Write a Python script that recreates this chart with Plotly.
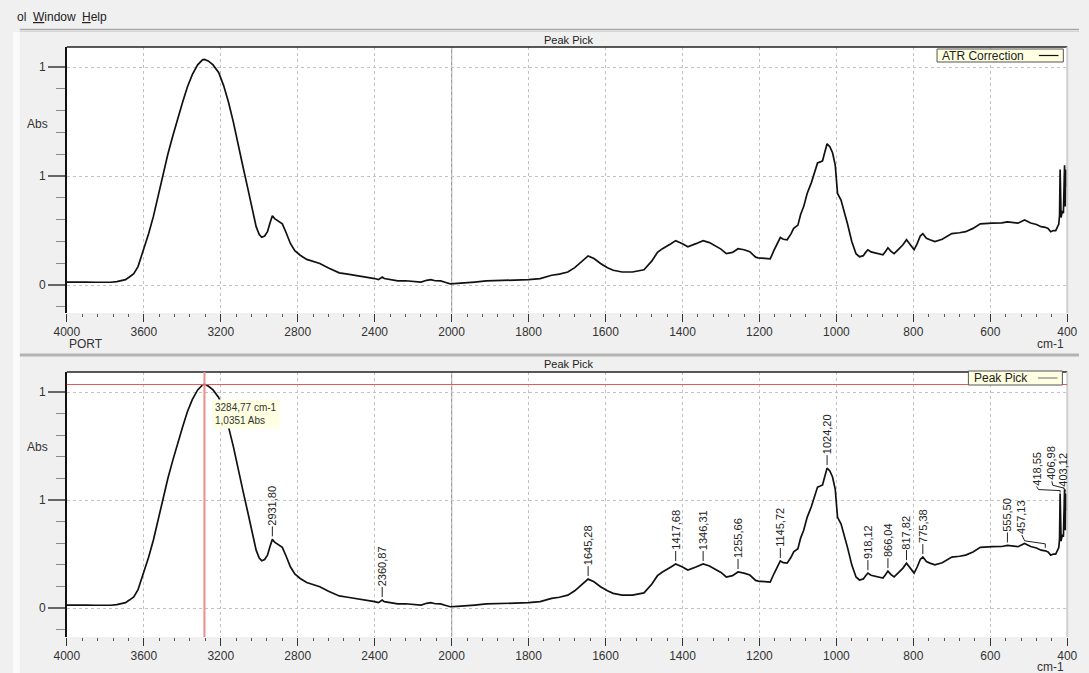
import numpy as np
import plotly.graph_objects as go

# ---------------- data ----------------
wavenumber = [
    4000, 3950, 3900, 3850, 3800, 3771, 3740, 3720, 3695, 3675, 3652, 3630, 3602, 3575,
    3550, 3525, 3500, 3475, 3449, 3424, 3398, 3373, 3348, 3320, 3300, 3295, 3284.77, 3275,
    3265, 3240, 3211, 3185, 3160, 3135, 3110, 3085, 3058, 3035, 3016, 3000, 2987, 2972,
    2957, 2944, 2931.80, 2920, 2906, 2893, 2880, 2860, 2838, 2815, 2787, 2753, 2720, 2685,
    2640, 2584, 2540, 2499, 2450, 2400, 2380, 2370, 2360.87, 2350, 2320, 2280, 2240, 2200,
    2170, 2159, 2130, 2108, 2085, 2057, 2030, 2007, 1985, 1969, 1940, 1910, 1870, 1840,
    1800, 1770, 1740, 1720, 1698, 1680, 1664, 1645.28, 1630, 1613, 1595, 1580, 1557, 1530,
    1500, 1480, 1465, 1452, 1430, 1417.68, 1400, 1386, 1365, 1346.31, 1330, 1312, 1300,
    1286, 1270, 1255.66, 1240, 1225, 1210, 1203, 1185, 1172, 1162, 1154, 1145.72, 1138,
    1128, 1118, 1111, 1100, 1093, 1085, 1076, 1065, 1055, 1049, 1042, 1036, 1030, 1024.20,
    1017, 1010, 1003, 997, 988, 980, 971, 960, 949, 940, 930, 924, 918.12, 910, 901, 890,
    879, 872, 866.04, 858, 850, 838, 827, 817.82, 808, 798, 790, 782, 775.38, 766, 757,
    744, 725, 700, 680, 664, 645, 626, 595, 570, 555.50, 540, 528, 511, 495, 480, 468,
    457.13, 450, 443, 436, 430, 425, 422, 420, 418.55, 416, 413, 410, 406.98, 405, 403.12,
    401.5, 400,
]
absorbance = [
    0.014, 0.015, 0.014, 0.013, 0.012, 0.013, 0.016, 0.020, 0.025, 0.037, 0.052, 0.085, 0.160, 0.235,
    0.315, 0.410, 0.515, 0.600, 0.685, 0.765, 0.840, 0.910, 0.965, 1.010, 1.028, 1.033, 1.0351, 1.033,
    1.028, 1.010, 0.975, 0.915, 0.840, 0.750, 0.654, 0.545, 0.438, 0.345, 0.268, 0.232, 0.219, 0.225,
    0.245, 0.285, 0.318, 0.305, 0.296, 0.290, 0.281, 0.240, 0.191, 0.158, 0.137, 0.118, 0.108, 0.099,
    0.078, 0.056, 0.050, 0.045, 0.038, 0.030, 0.025, 0.030, 0.037, 0.030, 0.024, 0.019, 0.020, 0.016,
    0.012, 0.014, 0.022, 0.025, 0.020, 0.019, 0.012, 0.006, 0.008, 0.009, 0.014, 0.019, 0.020, 0.022,
    0.025, 0.030, 0.045, 0.050, 0.060, 0.080, 0.106, 0.134, 0.122, 0.099, 0.080, 0.068, 0.060, 0.060,
    0.070, 0.110, 0.150, 0.167, 0.190, 0.204, 0.190, 0.176, 0.190, 0.204, 0.195, 0.176, 0.165,
    0.144, 0.150, 0.167, 0.162, 0.153, 0.128, 0.125, 0.122, 0.120, 0.160, 0.190, 0.218, 0.210,
    0.208, 0.235, 0.260, 0.275, 0.324, 0.360, 0.420, 0.470, 0.530, 0.560, 0.565, 0.570, 0.610, 0.648,
    0.635, 0.607, 0.550, 0.420, 0.390, 0.340, 0.280, 0.200, 0.144, 0.130, 0.135, 0.150, 0.162, 0.152, 0.148, 0.145,
    0.139, 0.155, 0.171, 0.155, 0.144, 0.165, 0.185, 0.208, 0.185, 0.162, 0.190, 0.225, 0.236, 0.215, 0.208,
    0.200, 0.210, 0.236, 0.240, 0.245, 0.260, 0.281, 0.284, 0.285, 0.290, 0.286, 0.284, 0.299, 0.285, 0.278, 0.268,
    0.265, 0.260, 0.245, 0.250, 0.250, 0.265, 0.280, 0.320, 0.530, 0.310, 0.340, 0.330, 0.550, 0.360, 0.530,
    0.450, 0.500,
]

peak_wn = [2931.80, 2360.87, 1645.28, 1417.68, 1346.31, 1255.66, 1145.72, 1024.20,
           918.12, 866.04, 817.82, 775.38, 555.50, 457.13, 418.55, 406.98, 403.12]
peak_labels = ["2931,80", "2360,87", "1645,28", "1417,68", "1346,31", "1255,66", "1145,72",
               "1024,20", "918,12", "866,04", "817,82", "775,38", "555,50", "457,13",
               "418,55", "406,98", "403,12"]

cursor_wn = 3284.77
cursor_abs = 1.0351

x_tick_wn = [4000, 3600, 3200, 2800, 2400, 2000, 1800, 1600, 1400, 1200, 1000, 800, 600, 400]
y_tick_vals = [0, 0.5, 1]
y_tick_text = ["0", "1", "1"]
y_minor_vals = [-0.1, 0.1, 0.2, 0.3, 0.4, 0.6, 0.7, 0.8, 0.9]

# leader polylines in pixel offsets (dx right, dy up) from the peak; first point = label bottom
DEFAULT_LEADER = [(0, 13), (0, 3)]
leader_style = {
    457.13: [(-24, 16), (-21, 10), (0, 7), (0, 3)],
    418.55: [(-24, 7), (-22, 4), (0, 3), (0, 1)],
    406.98: [(-13, 8), (-12, 4), (0, 1)],
    403.12: [(-3, 6), (0, 2)],
}

# ---------------- helpers ----------------
W, H = 1089, 673
FONT = "Arial, Liberation Sans, sans-serif"
PLOT_L, PLOT_R = 55, 1077
TOP_T, TOP_B = 47, 313
BOT_T, BOT_B = 372, 637
Y1_RANGE = [-0.128, 1.092]
Y2_RANGE = [-0.134, 1.093]


def disp(w):
    """FTIR axis: scale compressed by 2 above 2000 cm-1."""
    w = np.asarray(w, dtype=float)
    return np.where(w <= 2000, w, 2000 + (w - 2000) / 2.0)


def PX(px):
    return px / W


def PY(py):
    return 1 - py / H


X_RANGE = [float(disp(4000)), float(disp(400))]
x_per_px = (X_RANGE[1] - X_RANGE[0]) / (PLOT_R - PLOT_L)      # negative (reversed axis)
y2_per_px = (Y2_RANGE[1] - Y2_RANGE[0]) / (BOT_B - BOT_T)

wn_arr = np.array(wavenumber)
ab_arr = np.array(absorbance)
X = disp(wn_arr)

fig = go.Figure()

# spectra
fig.add_trace(go.Scatter(x=X, y=ab_arr, mode="lines", line=dict(color="#111", width=1.7),
                         xaxis="x", yaxis="y", hoverinfo="skip"))
fig.add_trace(go.Scatter(x=X, y=ab_arr, mode="lines", line=dict(color="#111", width=1.7),
                         xaxis="x2", yaxis="y2", hoverinfo="skip"))
# cursor highlight (cyan) near picked point
near = np.abs(wn_arr - cursor_wn) <= 11
fig.add_trace(go.Scatter(x=X[near], y=ab_arr[near], mode="lines", line=dict(color="#19d3e0", width=2),
                         xaxis="x2", yaxis="y2", hoverinfo="skip"))

# peak leader lines (data coordinates derived from peaks + pixel offsets)
lx, ly = [], []
peak_abs = []
for w in peak_wn:
    a = float(np.interp(w, wn_arr[::-1], ab_arr[::-1]))
    peak_abs.append(a)
    xp = float(disp(w))
    for dx, dy in leader_style.get(w, DEFAULT_LEADER):
        lx.append(xp + dx * x_per_px)
        ly.append(a + dy * y2_per_px)
    lx.append(None)
    ly.append(None)
fig.add_trace(go.Scatter(x=lx, y=ly, mode="lines", line=dict(color="#222", width=1),
                         xaxis="x2", yaxis="y2", hoverinfo="skip", connectgaps=False))

tickvals_x = [float(v) for v in disp(x_tick_wn)]
ticktext_x = [str(v) for v in x_tick_wn]


def xaxis_cfg(dom_anchor):
    return dict(
        domain=[PX(PLOT_L), PX(PLOT_R)], range=X_RANGE,
        tickmode="array", tickvals=tickvals_x, ticktext=ticktext_x,
        ticks="outside", ticklen=8, tickwidth=1, tickcolor="#333",
        tickfont=dict(size=12, color="#333"),
        showgrid=True, gridcolor="#c2c2c2", griddash="dot", gridwidth=1,
        zeroline=False, showline=False, anchor=dom_anchor,
        minor=dict(tickmode="linear", tick0=400, dtick=40, ticks="outside", ticklen=3,
                   tickcolor="#555", tickwidth=1, showgrid=False),
    )


def yaxis_cfg(dom, rng, anchor):
    return dict(
        domain=dom, range=rng, tickmode="array", tickvals=y_tick_vals, ticktext=y_tick_text,
        ticks="outside", ticklen=17, tickwidth=1.5, tickcolor="#666",
        tickfont=dict(size=12, color="#333"),
        showline=True, linecolor="#111", linewidth=1.5,
        showgrid=True, gridcolor="#c2c2c2", griddash="dot", gridwidth=1,
        zeroline=False, anchor=anchor,
        minor=dict(tickmode="array", tickvals=y_minor_vals, ticks="outside", ticklen=9,
                   tickcolor="#8a8a8a", tickwidth=1.2, showgrid=False),
    )


fig.update_layout(
    width=W, height=H, margin=dict(l=0, r=0, t=0, b=0), autosize=False,
    paper_bgcolor="#f0f0f0", plot_bgcolor="white", showlegend=False,
    font=dict(family=FONT, size=12, color="#333"),
    xaxis=xaxis_cfg("y"),
    yaxis=yaxis_cfg([PY(TOP_B), PY(TOP_T)], Y1_RANGE, "x"),
    xaxis2=xaxis_cfg("y2"),
    yaxis2=yaxis_cfg([PY(BOT_B), PY(BOT_T)], Y2_RANGE, "x2"),
)

shapes = []
# window chrome
shapes.append(dict(type="rect", xref="paper", yref="paper", x0=0, x1=PX(7), y0=0, y1=PY(32),
                   fillcolor="#fbfbfb", line=dict(width=0)))
shapes.append(dict(type="line", xref="paper", yref="paper", x0=PX(7), x1=1, y0=PY(29.5), y1=PY(29.5),
                   line=dict(color="#a8a8a8", width=1.5)))
shapes.append(dict(type="line", xref="paper", yref="paper", x0=PX(7), x1=1, y0=PY(31.5), y1=PY(31.5),
                   line=dict(color="#d6d6d6", width=1)))
shapes.append(dict(type="line", xref="paper", yref="paper", x0=PX(7), x1=1, y0=PY(355), y1=PY(355),
                   line=dict(color="#b3b3b3", width=3)))

for xa, ya in (("x", "y"), ("x2", "y2")):
    # top border and right border of plot area
    shapes.append(dict(type="line", xref=f"{xa} domain", yref=f"{ya} domain", x0=0, x1=1, y0=1, y1=1,
                       line=dict(color="#222", width=1.5)))
    shapes.append(dict(type="line", xref=f"{xa} domain", yref=f"{ya} domain", x0=1, x1=1, y0=0, y1=1,
                       line=dict(color="#cfcfcf", width=2)))
    # solid separator at 2000 cm-1 (axis scale change)
    shapes.append(dict(type="line", xref=xa, yref=f"{ya} domain", x0=float(disp(2000)), x1=float(disp(2000)),
                       y0=0, y1=1, line=dict(color="#9a9a9a", width=1.2), layer="below"))

# cursor crosshair
cx = float(disp(cursor_wn))
shapes.append(dict(type="line", xref="x2", yref="y2 domain", x0=cx, x1=cx, y0=0, y1=1,
                   line=dict(color="#f28b8b", width=2)))
shapes.append(dict(type="line", xref="x2 domain", yref="y2", x0=0, x1=1, y0=cursor_abs, y1=cursor_abs,
                   line=dict(color="#e85a5a", width=1)))

# legend boxes
shapes.append(dict(type="rect", xref="paper", yref="paper", x0=PX(944), x1=PX(1073), y0=PY(62), y1=PY(49),
                   fillcolor="#ffffe1", line=dict(color="#555", width=1)))
shapes.append(dict(type="line", xref="paper", yref="paper", x0=PX(1048), x1=PX(1068), y0=PY(55.5), y1=PY(55.5),
                   line=dict(color="#111", width=1.2)))
shapes.append(dict(type="rect", xref="paper", yref="paper", x0=PX(976), x1=PX(1072), y0=PY(385), y1=PY(371),
                   fillcolor="#ffffe1", line=dict(color="#555", width=1)))
shapes.append(dict(type="line", xref="paper", yref="paper", x0=PX(1047), x1=PX(1067), y0=PY(378), y1=PY(378),
                   line=dict(color="#9a9a9a", width=1.5)))
fig.update_layout(shapes=shapes)

ann = []


def text(px, py, s, size=12, xanchor="left", yanchor="middle", color="#333"):
    ann.append(dict(x=PX(px), y=PY(py), xref="paper", yref="paper", text=s, showarrow=False,
                    xanchor=xanchor, yanchor=yanchor, font=dict(size=size, color=color, family=FONT)))


# menu bar
text(2, 17, "ol", size=12, color="#222")
text(18, 17, '<span style="text-decoration:underline">W</span>indow', size=12, color="#222")
text(68, 17, '<span style="text-decoration:underline">H</span>elp', size=12, color="#222")
# panel titles
text(567, 40, "Peak Pick", size=11, xanchor="center", color="#222")
text(567, 364, "Peak Pick", size=11, xanchor="center", color="#222")
# axis labels
text(12, 124, "Abs", size=12, color="#333")
text(12, 447, "Abs", size=12, color="#333")
text(55, 344, "PORT", size=12, color="#333")
text(1076, 344, "cm-1", size=12, xanchor="right", color="#333")
text(1076, 667, "cm-1", size=12, xanchor="right", color="#333")
# legends
text(947, 55.5, "ATR Correction", size=12, color="#222")
text(980, 378, "Peak Pick", size=12, color="#222")

# peak labels (rotated text, bottom at the leader start)
for w, lab, a in zip(peak_wn, peak_labels, peak_abs):
    dx, dy = leader_style.get(w, DEFAULT_LEADER)[0]
    ann.append(dict(x=float(disp(w)), y=a, xref="x2", yref="y2", text=lab, textangle=-90,
                    showarrow=False, xanchor="center", yanchor="bottom", xshift=dx, yshift=dy,
                    borderpad=0, font=dict(size=11, color="#222", family=FONT)))

# cursor tooltip
tip = f"{cursor_wn:.2f}".replace(".", ",") + " cm-1<br>" + f"{cursor_abs:.4f}".replace(".", ",") + " Abs"
ann.append(dict(x=cx, y=cursor_abs, xref="x2", yref="y2", text=tip, showarrow=False,
                xanchor="left", yanchor="top", xshift=8, yshift=-14, align="left",
                bgcolor="#ffffe1", borderpad=2, font=dict(size=10, color="#333", family=FONT)))

fig.update_layout(annotations=ann)
fig.write_html("out.html",
               config={"displayModeBar": False},
               post_script="document.body.style.margin='0px';")
